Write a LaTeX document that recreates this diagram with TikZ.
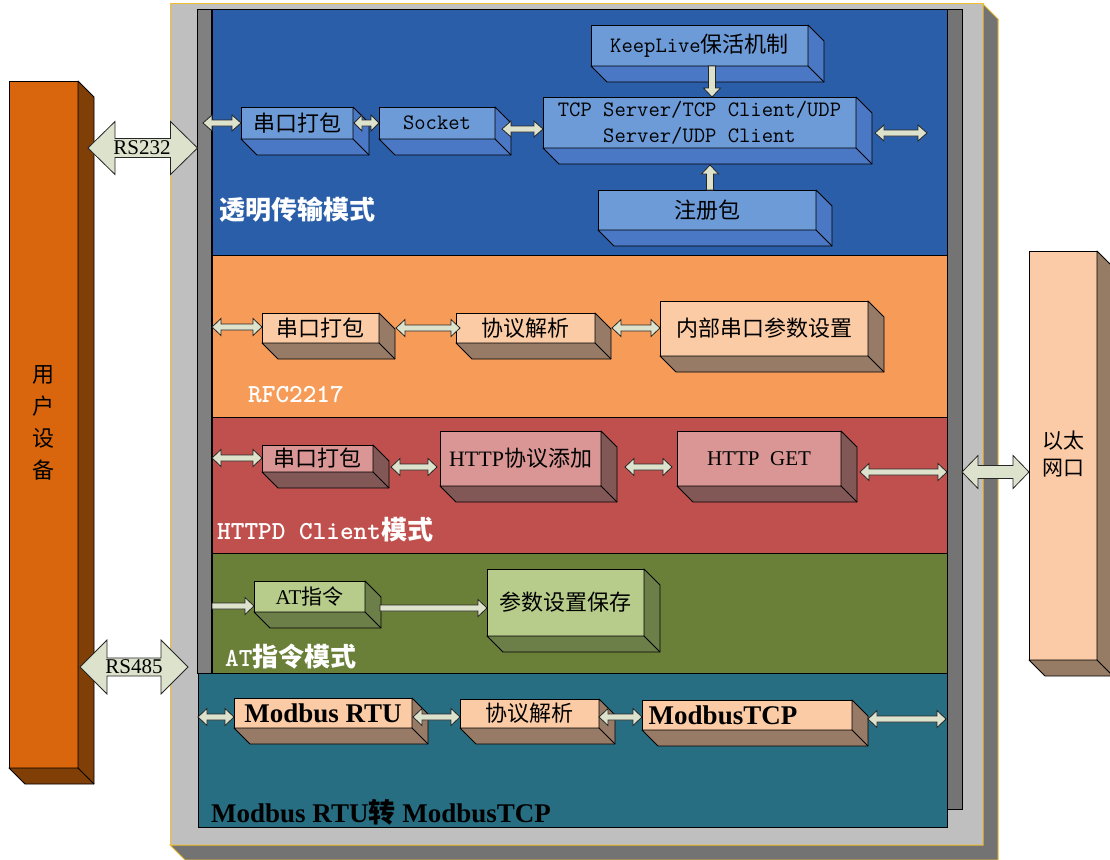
\documentclass[tikz,border=0pt]{standalone}
\usepackage{fontspec}
\newfontfamily\zhfont{Noto Sans CJK SC}
\newfontfamily\tnr{Liberation Serif}
\newcommand\zh[1]{{\zhfont #1}}
\newcommand\fsz[1]{\fontsize{#1}{#1}\selectfont}
\usetikzlibrary{calc}

\definecolor{greyfront}{HTML}{BFBFBF}
\definecolor{greyside}{HTML}{737373}
\definecolor{gold}{HTML}{F0BE30}
\definecolor{stripL}{HTML}{808080}
\definecolor{stripR}{HTML}{747474}
\definecolor{blueP}{HTML}{2A5EA8}
\definecolor{orangeP}{HTML}{F69C58}
\definecolor{redP}{HTML}{C0504D}
\definecolor{greenP}{HTML}{6A7F38}
\definecolor{tealP}{HTML}{276E83}
\definecolor{blueF}{HTML}{6C9BD8}
\definecolor{blueS}{HTML}{4A78C4}
\definecolor{peachF}{HTML}{FBCBA5}
\definecolor{peachS}{HTML}{977B66}
\definecolor{redF}{HTML}{D99694}
\definecolor{redS}{HTML}{825856}
\definecolor{greenF}{HTML}{B7CC8A}
\definecolor{greenS}{HTML}{6D7F49}
\definecolor{udF}{HTML}{D9660C}
\definecolor{udS}{HTML}{7F3F07}
\definecolor{enF}{HTML}{FACBA6}
\definecolor{enS}{HTML}{967B65}
\definecolor{arrowF}{HTML}{DDE2CC}

% 3D box: name, x1, y1, x2, y2, front colour, side colour, text; depth \cd
\def\cd{16}
\newcommand\cube[8]{%
  \node[cubefront, fill=#6, minimum width={#4-#2}, minimum height={#5-#3}] (#1) at ({(#2+#4)/2},{(#3+#5)/2}) {#8};
  \filldraw[cubeline, fill=#7] (#1.north east) -- ++(\cd,\cd) -- ([shift={(\cd,\cd)}]#1.south east) -- ([shift={(\cd,\cd)}]#1.south west) -- (#1.south west) -- (#1.south east) -- cycle;
  \draw[cubeline] (#1.south east) -- ++(\cd,\cd);
}
% block arrows: start, end, shaft half, head half, head length
\newcommand\dblH[5]{%
  \filldraw[blockarrow] let \p1=#1, \p2=#2 in
  (\x1,\y1) -- (\x1+#5pt,\y1+#4pt) -- (\x1+#5pt,\y1+#3pt) -- (\x2-#5pt,\y1+#3pt) -- (\x2-#5pt,\y1+#4pt) -- (\x2,\y1)
  -- (\x2-#5pt,\y1-#4pt) -- (\x2-#5pt,\y1-#3pt) -- (\x1+#5pt,\y1-#3pt) -- (\x1+#5pt,\y1-#4pt) -- cycle;}
\newcommand\sglR[5]{%
  \filldraw[blockarrow] let \p1=#1, \p2=#2 in
  (\x1,\y1+#3pt) -- (\x2-#5pt,\y1+#3pt) -- (\x2-#5pt,\y1+#4pt) -- (\x2,\y1) -- (\x2-#5pt,\y1-#4pt) -- (\x2-#5pt,\y1-#3pt) -- (\x1,\y1-#3pt) -- cycle;}
\newcommand\sglD[5]{%
  \filldraw[blockarrow] let \p1=#1, \p2=#2 in
  (\x1-#3pt,\y1) -- (\x1-#3pt,\y2+#5pt) -- (\x1-#4pt,\y2+#5pt) -- (\x1,\y2) -- (\x1+#4pt,\y2+#5pt) -- (\x1+#3pt,\y2+#5pt) -- (\x1+#3pt,\y1) -- cycle;}
\newcommand\sglU[5]{%
  \filldraw[blockarrow] let \p1=#1, \p2=#2 in
  (\x1-#3pt,\y1) -- (\x1-#3pt,\y2-#5pt) -- (\x1-#4pt,\y2-#5pt) -- (\x1,\y2) -- (\x1+#4pt,\y2-#5pt) -- (\x1+#3pt,\y2-#5pt) -- (\x1+#3pt,\y1) -- cycle;}

\begin{document}
\begin{tikzpicture}[x=1pt,y=-1pt,
  cubefront/.style={draw=black, line width=0.9pt, inner sep=0pt, outer sep=0pt, align=center, text=black},
  cubeline/.style={draw=black, line width=0.9pt, line join=round},
  blockarrow/.style={draw=black!85, fill=arrowF, line width=0.8pt, line join=miter},
  panel/.style={draw=black, line width=0.9pt, inner sep=0pt, outer sep=0pt},
  whitelbl/.style={text=white, anchor=west, inner sep=0pt},
]
\useasboundingbox (0,0) rectangle (1110,859);
\fill[white] (0,0) rectangle (1110,859);

% ---------- outer grey module box ----------
\node[draw=gold, line width=1pt, fill=greyfront, inner sep=0pt, outer sep=0pt,
      minimum width=813, minimum height=841] (gb) at (576.5,424.5) {};
\filldraw[draw=gold, line width=1pt, fill=greyside] (gb.north east) -- ++(15,15) -- ([shift={(15,15)}]gb.south east)
   -- ([shift={(15,15)}]gb.south west) -- (gb.south west) -- (gb.south east) -- cycle;

% strips
\node[panel, fill=stripL, minimum width=14, minimum height=664] (lstrip) at (204.5,341) {};
\node[panel, fill=stripR, minimum width=15, minimum height=800] (rstrip) at (954.5,409) {};

% panels
\node[panel, fill=blueP, minimum width=735, minimum height=246] (pblue) at (579.5,132) {};
\node[panel, fill=orangeP, minimum width=735, minimum height=162] (porange) at (579.5,336) {};
\node[panel, fill=redP, minimum width=735, minimum height=136] (pred) at (579.5,485) {};
\node[panel, fill=greenP, minimum width=735, minimum height=120] (pgreen) at (579.5,613) {};
\node[panel, fill=tealP, minimum width=749, minimum height=154] (pteal) at (572.5,750) {};

% ---------- user device & ethernet ----------
\cube{ud}{9}{81}{78}{768}{udF}{udS}{}
\node[font={\zhfont\fontsize{22}{32}\selectfont}, align=center, inner sep=0pt] (udlbl) at (43,423)
  {用\\户\\设\\备};
\cube{en}{1029}{251}{1097}{660}{enF}{enS}{}
\node[font={\zhfont\fontsize{21}{27}\selectfont}, align=center, inner sep=0pt] (enlbl) at (1063,454)
  {以太\\网口};

% ---------- transparent mode (blue) ----------
\cube{bs}{241}{107}{353}{139}{blueF}{blueS}{\zhfont\fsz{22}串口打包}
\cube{sock}{379}{107}{495}{139}{blueF}{blueS}{\ttfamily\fsz{22}Socket}
\cube{tcp}{543}{97}{856}{148}{blueF}{blueS}{\ttfamily\fsz{22}TCP Server/TCP Client/UDP\\[8pt]\ttfamily\fsz{22}Server/UDP Client}
\cube{keep}{591}{25}{808}{66}{blueF}{blueS}{\ttfamily\fsz{22}KeepLive\zh{保活机制}}
\cube{reg}{598}{190}{816}{230}{blueF}{blueS}{\zhfont\fsz{22}注册包}
\node[whitelbl, font=\zhfont\bfseries\fsz{26}] (lblue) at (219,210) {透明传输模式};
\coordinate (blueL) at (203,123);
\coordinate (blueR) at (927,133);
\dblH{(blueL)}{(bs.west)}{3}{8}{9}
\dblH{($(bs.east)+(1,0)$)}{(sock.west)}{3}{8}{8}
\dblH{($(sock.east)+(7,6)$)}{(tcp.west)}{3}{8}{9}
\dblH{($(tcp.east)+(19,10.5)$)}{(blueR)}{3}{8}{9}
\sglD{($(keep.south)+(12.5,0)$)}{(tcp.north)}{3.5}{8.5}{9}
\sglU{($(reg.north)+(3,0)$)}{($(tcp.south)+(0,17)$)}{3.5}{8.5}{9}

% ---------- RFC2217 (orange) ----------
\cube{os}{262}{313}{379}{343}{peachF}{peachS}{\zhfont\fsz{22}串口打包}
\cube{op}{456}{313}{595}{343}{peachF}{peachS}{\zhfont\fsz{22}协议解析}
\cube{oi}{660}{301}{868}{356}{peachF}{peachS}{\zhfont\fsz{22}内部串口参数设置}
\node[whitelbl, font=\ttfamily\bfseries\fsz{26}] (lorange) at (248,394) {RFC2217};
\coordinate (orL) at (212,327);
\dblH{(orL)}{(os.west)}{3}{8.5}{9}
\dblH{($(os.east)+(17,0)$)}{($(op.west)+(4,0)$)}{3}{8.5}{9}
\dblH{($(op.east)+(17,0)$)}{(oi.west)}{3}{8.5}{9}

% ---------- HTTPD Client (red) ----------
\cube{rs}{262}{445}{373}{472}{redF}{redS}{\zhfont\fsz{22}串口打包}
\cube{rh}{440}{431}{601}{486}{redF}{redS}{\tnr\fsz{22}HTTP\zh{协议添加}}
\cube{rg}{677}{431}{841}{486}{redF}{redS}{\tnr\fsz{21}HTTP\ \ GET}
\node[whitelbl, font=\ttfamily\bfseries\fsz{26}] (lred) at (217,530) {HTTPD Client{\zhfont\bfseries 模式}};
\coordinate (redL) at (212,458);
\coordinate (redR) at (947,472);
\dblH{(redL)}{(rs.west)}{3}{8.5}{9}
\dblH{($(rs.east)+(18,8.5)$)}{($(rh.west)+(-3,0)$)}{3}{8.5}{9}
\dblH{($(rh.east)+(24,8.5)$)}{($(rg.west)+(-5,0)$)}{3}{8.5}{9}
\dblH{($(rg.east)+(19,13.5)$)}{(redR)}{3}{8.5}{9}

% ---------- AT mode (green) ----------
\cube{ga}{254}{581}{365}{612}{greenF}{greenS}{\tnr\fsz{21}AT\zh{指令}}
\cube{gp}{487}{569}{644}{636}{greenF}{greenS}{\zhfont\fsz{22}参数设置保存}
\node[whitelbl, font=\ttfamily\bfseries\fsz{26}] (lgreen) at (225,657) {AT{\zhfont\bfseries 指令模式}};
\coordinate (grL) at (212,606);
\sglR{(grL)}{(ga.west)}{3}{8.5}{9}
\sglR{($(ga.east)+(15,11.5)$)}{(gp.west)}{3}{8.5}{9}

% ---------- Modbus (teal) ----------
\cube{tm}{234}{698}{412}{728}{peachF}{peachS}{\tnr\bfseries\fsz{27}Modbus RTU}
\cube{tp}{460}{699}{599}{728}{peachF}{peachS}{\zhfont\fsz{22}协议解析}
\cube{tt}{642}{700}{852}{730}{peachF}{peachS}{\tnr\bfseries\fsz{27}ModbusTCP\hspace*{48pt}}
\node[anchor=west, inner sep=0pt, text=black, font=\tnr\bfseries\fsz{27}] (lteal) at (211,812) {Modbus RTU\zh{\bfseries 转} ModbusTCP};
\coordinate (teL) at (198,717);
\coordinate (teR) at (946,719);
\dblH{(teL)}{(tm.west)}{3}{8.5}{9}
\dblH{($(tm.east)+(1,4)$)}{(tp.west)}{3}{8.5}{9}
\dblH{($(tp.east)+(0,3.5)$)}{(tt.west)}{3}{8.5}{9}
\dblH{($(tt.east)+(16,4)$)}{(teR)}{3}{8.5}{9}

% ---------- interface arrows ----------
\coordinate (rs485R) at (188,667);
\dblH{($(ud.east)+(10,-276.5)$)}{(lstrip.west |- 0,148)}{9.5}{26.5}{27}
\node[font=\tnr\fsz{21}, inner sep=0pt] (rs232) at (142,148) {RS232};
\dblH{($(ud.east)+(2,242.5)$)}{(rs485R)}{9}{27}{27}
\node[font=\tnr\fsz{21}, inner sep=0pt] (rs485) at (134,667) {RS485};
\dblH{(rstrip.east |- 0,472)}{(en.west |- 0,472)}{6.5}{16.5}{16}
\end{tikzpicture}
\end{document}
